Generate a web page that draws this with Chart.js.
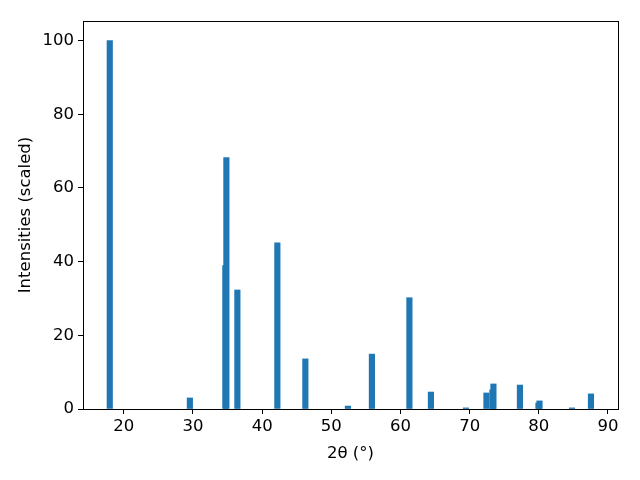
<!DOCTYPE html>
<html>
<head>
<meta charset="utf-8">
<script src="https://cdn.jsdelivr.net/npm/chart.js@4/dist/chart.umd.min.js"></script>
<style>
  html, body { margin: 0; padding: 0; background: #fff; }
  #wrap { width: 640px; height: 480px; }
</style>
</head>
<body>
<div id="wrap"><canvas id="c" width="640" height="480"></canvas></div>
<script>
const twoTheta = [17.97, 29.55, 34.68, 34.83, 36.42, 42.2, 46.25, 52.4, 55.87, 61.29, 64.4, 69.47, 72.43, 73.3, 73.44, 77.27, 79.95, 80.1, 84.8, 87.54];
const intensities = [100, 3.0, 38.9, 68.2, 32.3, 45.1, 13.6, 0.8, 14.9, 30.2, 4.6, 0.3, 4.35, 5.2, 6.8, 6.5, 1.6, 2.2, 0.3, 4.1];
const xTicks = [20, 30, 40, 50, 60, 70, 80, 90];
const yTicks = [0, 20, 40, 60, 80, 100];

const points = twoTheta.map((x, i) => ({ x: x, y: intensities[i] }));

const frame = {
  id: 'frame',
  afterDatasetsDraw(chart) {
    const a = chart.chartArea, ctx = chart.ctx;
    ctx.save();
    ctx.strokeStyle = '#000';
    ctx.lineWidth = 1;
    ctx.strokeRect(Math.round(a.left) + 0.5, Math.round(a.top) + 0.5, Math.round(a.right - a.left), Math.round(a.bottom - a.top));
    ctx.restore();
  }
};

const font = { family: 'DejaVu Sans', size: 16.5 };

new Chart(document.getElementById('c'), {
  type: 'bar',
  data: {
    datasets: [{
      data: points,
      backgroundColor: '#1f77b4',
      borderWidth: 0,
      barThickness: 5.5
    }]
  },
  options: {
    responsive: false,
    animation: false,
    layout: { padding: { top: 21, right: 22, left: 0, bottom: 0 } },
    plugins: { legend: { display: false }, tooltip: { enabled: false } },
    scales: {
      x: {
        type: 'linear',
        offset: false,
        min: 14.1,
        max: 91.45,
        afterBuildTicks: s => { s.ticks = xTicks.map(v => ({ value: v })); },
        afterFit: s => { s.height = 71; },
        grid: { offset: false, drawOnChartArea: false, drawTicks: true, tickLength: 5, color: '#000' },
        border: { display: false },
        ticks: { color: '#000', font: font, padding: 3, maxRotation: 0, autoSkip: false },
        title: { display: true, text: '2θ (°)', color: '#000', font: font, padding: { top: 0, bottom: 16 } }
      },
      y: {
        min: 0,
        max: 105.3,
        afterBuildTicks: s => { s.ticks = yTicks.map(v => ({ value: v })); },
        afterFit: s => { s.width = 83; },
        grid: { drawOnChartArea: false, drawTicks: true, tickLength: 5, color: '#000' },
        border: { display: false },
        ticks: { color: '#000', font: font, padding: 4 },
        title: { display: true, text: 'Intensities (scaled)', color: '#000', font: font, padding: { top: 16, bottom: 0 } }
      }
    }
  },
  plugins: [frame]
});
</script>
</body>
</html>
